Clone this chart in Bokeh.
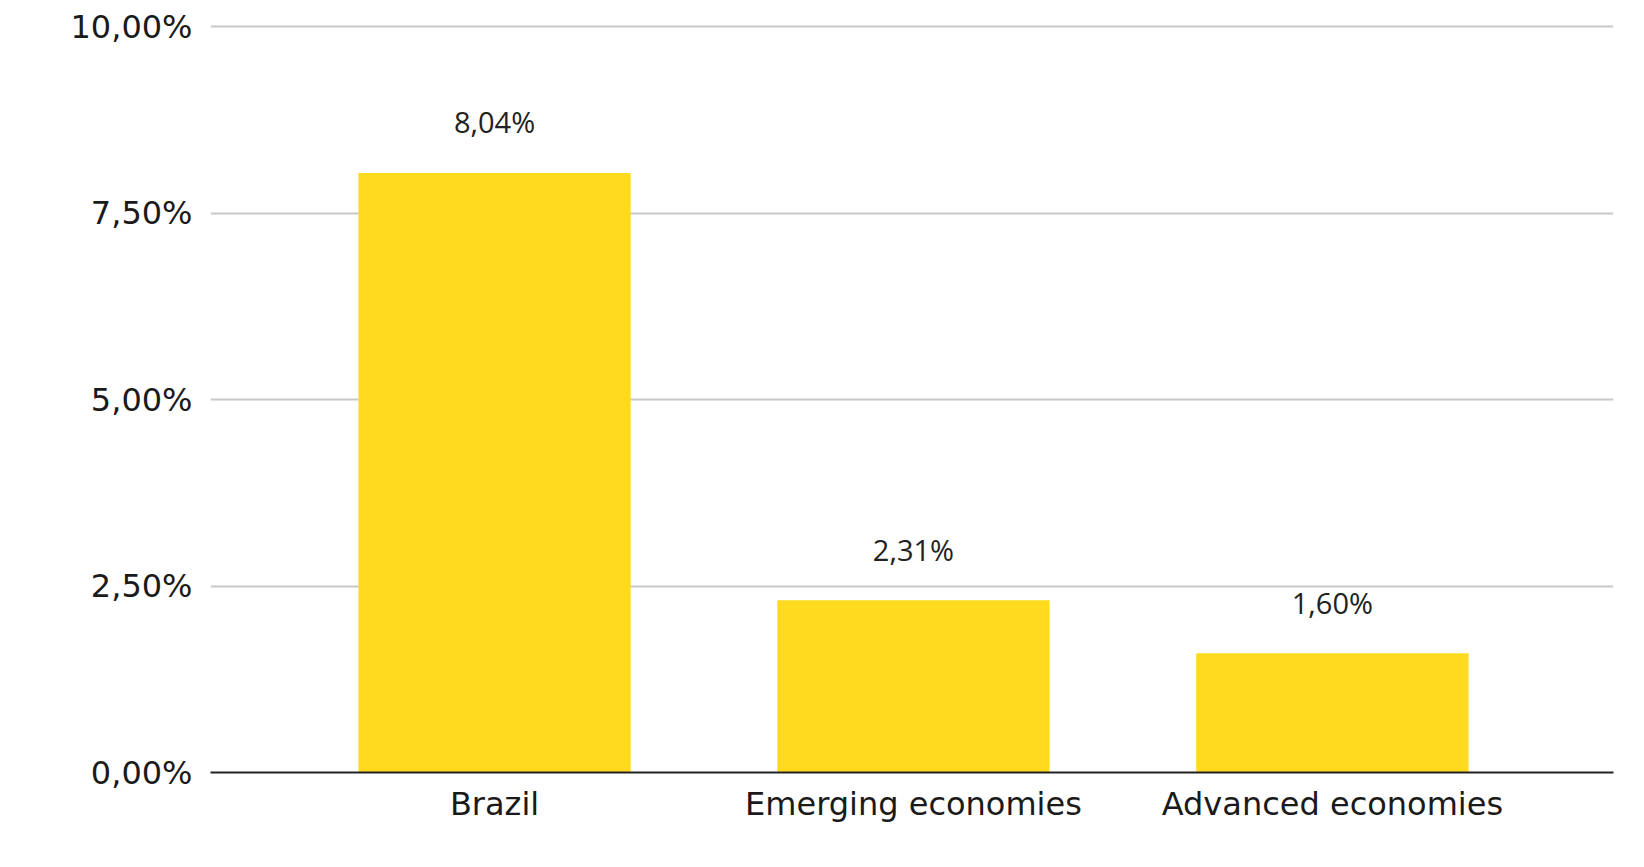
from bokeh.plotting import figure
from bokeh.models import ColumnDataSource, FixedTicker, Range1d
from bokeh.core.properties import value
from bokeh.embed import file_html
from bokeh.resources import INLINE

categories = ["Brazil", "Emerging economies", "Advanced economies"]
values = [8.04, 2.31, 1.60]
value_labels = ["8,04%", "2,31%", "1,60%"]
y_ticks = [0, 2.5, 5, 7.5, 10]
y_tick_labels = ["0,00%", "2,50%", "5,00%", "7,50%", "10,00%"]

xs = list(range(len(categories)))
src = ColumnDataSource(dict(x=xs, top=values, label=value_labels))

p = figure(width=1644, height=867, output_backend="svg", toolbar_location=None,
           x_range=Range1d(-0.678, 2.671), y_range=Range1d(0, 10.03),
           min_border_left=210, min_border_right=31, min_border_top=24, min_border_bottom=95)
p.outline_line_color = None
p.background_fill_color = "white"
p.border_fill_color = "white"

p.vbar(x="x", top="top", width=0.65, bottom=0, source=src,
       fill_color="#FFDA1E", line_color=None)
p.text(x="x", y="top", text="label", source=src, text_align="center",
       text_baseline="middle", y_offset=-51, text_font=value("Open Sans"),
       text_font_size="29px", text_color="#222222")

p.xaxis.ticker = FixedTicker(ticks=xs)
p.xaxis.major_label_overrides = {i: c for i, c in enumerate(categories)}
p.xaxis.major_tick_line_color = None
p.xaxis.minor_tick_line_color = None
p.xaxis.axis_line_color = "#222222"
p.xaxis.axis_line_width = 2
p.xaxis.major_label_text_font = "DejaVu Sans"
p.xaxis.major_label_text_font_size = "32px"
p.xaxis.major_label_text_color = "#1a1a1a"
p.xaxis.major_label_standoff = 6

p.yaxis.ticker = FixedTicker(ticks=y_ticks)
p.yaxis.major_label_overrides = {t: l for t, l in zip(y_ticks, y_tick_labels)}
p.yaxis.axis_line_color = None
p.yaxis.major_tick_line_color = None
p.yaxis.minor_tick_line_color = None
p.yaxis.major_label_text_font = "DejaVu Sans"
p.yaxis.major_label_text_font_size = "32px"
p.yaxis.major_label_text_color = "#1a1a1a"
p.yaxis.major_label_standoff = 12

p.xgrid.grid_line_color = None
p.ygrid.ticker = FixedTicker(ticks=y_ticks)
p.ygrid.grid_line_color = "#c8c8c8"
p.ygrid.grid_line_width = 2

open("out.html", "w").write(file_html(p, INLINE))
